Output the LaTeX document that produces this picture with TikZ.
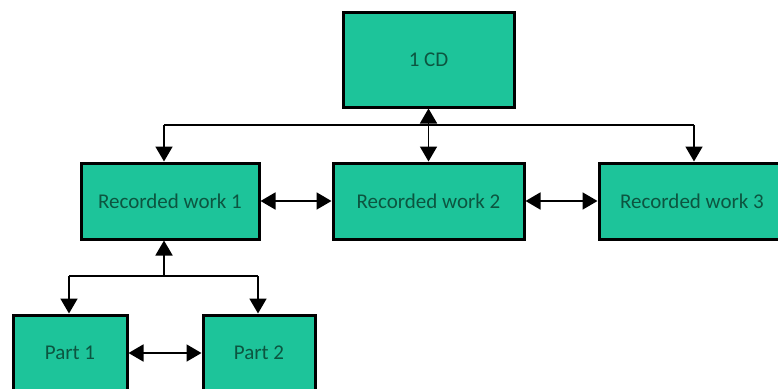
\documentclass[tikz,border=0pt]{standalone}
\usepackage{fontspec}
\setmainfont{Carlito}
\usetikzlibrary{arrows.meta}
\definecolor{boxfill}{HTML}{1DC49A}
\definecolor{boxtext}{HTML}{0C5540}
\tikzset{
  box/.style={draw=black, line width=3pt, fill=boxfill, text=boxtext,
    font=\fontsize{21}{24}\selectfont, inner sep=0pt},
  link/.style={line width=1.8pt, draw=black},
  tip/.style={-{Triangle[width=17pt,length=15pt]}},
  bitip/.style={{Triangle[width=17pt,length=15pt]}-{Triangle[width=17pt,length=15pt]}}
}
\begin{document}
\begin{tikzpicture}[x=1pt,y=1pt]
  \useasboundingbox (0,0) rectangle (778,-388);
  \fill[white] (0,0) rectangle (778,-388);
  \clip (0,0) rectangle (778,-388);

  % boxes, placed by their centres
  \node[box, minimum width=171pt, minimum height=95pt] (cd) at (428.5,-59.5) {1 CD};
  \node[box, minimum width=178pt, minimum height=76pt] (rw1) at (170,-201) {Recorded work 1};
  \node[box, minimum width=191pt, minimum height=76pt] (rw2) at (428.5,-201) {Recorded work 2};
  \node[box, minimum width=186pt, minimum height=76pt] (rw3) at (692,-201) {Recorded work 3};
  \node[box, minimum width=114pt, minimum height=76pt] (p1) at (70,-353) {Part 1};
  \node[box, minimum width=112pt, minimum height=76pt] (p2) at (259,-353) {Part 2};

  % bus from the CD to the recorded works
  \coordinate (busL) at (164,-125);
  \coordinate (busR) at (694,-125);
  \draw[link] (busL) -- (busR);
  \draw[link, bitip] (cd.south) -- (rw2.north);
  \draw[link, tip] (busL) -- (busL |- rw1.north);
  \draw[link, tip] (busR) -- (busR |- rw3.north);

  % links between sibling works
  \draw[link, bitip] (rw1.east) -- (rw2.west);
  \draw[link, bitip] (rw2.east) -- (rw3.west);

  % bus from recorded work 1 to its parts
  \coordinate (pbusM) at (164,-276);
  \coordinate (pbusL) at (69,-276);
  \coordinate (pbusR) at (258,-276);
  \draw[link] (pbusL) -- (pbusR);
  \draw[link, tip] (pbusM) -- (pbusM |- rw1.south);
  \draw[link, tip] (pbusL) -- (pbusL |- p1.north);
  \draw[link, tip] (pbusR) -- (pbusR |- p2.north);
  \draw[link, bitip] (p1.east) -- (p2.west);
\end{tikzpicture}
\end{document}
